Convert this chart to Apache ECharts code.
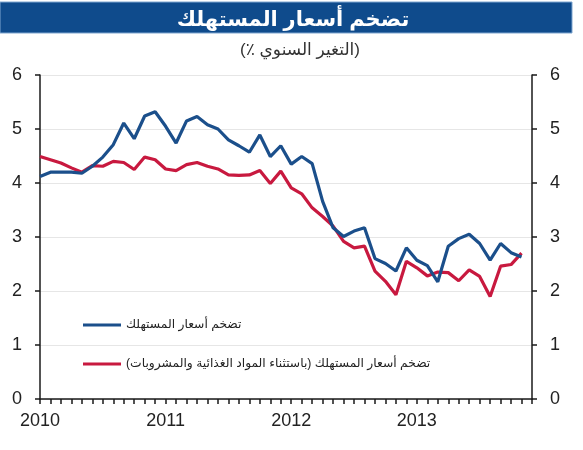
<!DOCTYPE html>
<html>
<head>
<meta charset="utf-8">
<script src="https://cdn.jsdelivr.net/npm/echarts@6/dist/echarts.min.js"></script>
<style>
    html, body { margin: 0; padding: 0; background: #fff; }
    #chart { width: 583px; height: 450px; }
</style>
</head>
<body>
<div id="chart"></div>
<script>
    // months Jan 2010 .. Dec 2013 (the last month has no value)
    var months = [];
    for (var y = 2010; y <= 2013; y++) {
        for (var m = 1; m <= 12; m++) {
            months.push(y + "-" + (m < 10 ? "0" + m : m));
        }
    }

    var cpiData = [4.12, 4.20, 4.20, 4.20, 4.18, 4.31, 4.48, 4.71, 5.11, 4.82, 5.24, 5.32,
        5.05, 4.74, 5.15, 5.23, 5.08, 5.00, 4.80, 4.69, 4.57, 4.89, 4.49, 4.69,
        4.35, 4.49, 4.36, 3.66, 3.17, 3.01, 3.11, 3.17, 2.60, 2.51, 2.37, 2.80,
        2.57, 2.47, 2.17, 2.83, 2.97, 3.05, 2.88, 2.57, 2.88, 2.71, 2.63];

    var coreData = [4.49, 4.43, 4.37, 4.28, 4.20, 4.32, 4.31, 4.40, 4.38, 4.25, 4.48, 4.43,
        4.26, 4.23, 4.34, 4.38, 4.31, 4.26, 4.15, 4.14, 4.15, 4.23, 3.99, 4.22,
        3.91, 3.80, 3.54, 3.38, 3.20, 2.92, 2.80, 2.83, 2.37, 2.18, 1.93, 2.55,
        2.43, 2.28, 2.35, 2.34, 2.19, 2.39, 2.27, 1.90, 2.46, 2.49, 2.70];

    var seriesNames = [
        "تضخم أسعار المستهلك",
        "تضخم أسعار المستهلك (باستثناء المواد الغذائية والمشروبات)\u200F"
    ];
    var titleText = "تضخم أسعار المستهلك";
    var subtitleText = "(٪ التغير السنوي)";

    var fontFamily = "'Liberation Sans', Arial, 'DejaVu Sans', sans-serif";
    var axisColor = "#1a1a1a";

    var chart = echarts.init(document.getElementById("chart"));

    var yAxisBase = {
        type: "value",
        min: 0,
        max: 6,
        interval: 1,
        axisLine: {show: true, lineStyle: {color: axisColor, width: 1.5}},
        axisTick: {show: true, inside: false, length: 5, lineStyle: {color: axisColor, width: 1.5}},
        axisLabel: {color: "#222", fontSize: 18, fontFamily: fontFamily, margin: 18}
    };

    var option = {
        backgroundColor: "#fff",
        animation: false,
        graphic: [
            {
                type: "rect",
                shape: {x: 0, y: 2, width: 572, height: 31},
                style: {fill: "#0f4b8c", stroke: "#7fa6d0", lineWidth: 1},
                z: 0
            }
        ],
        title: [
            {
                text: titleText,
                left: 288,
                top: 5,
                textAlign: "center",
                textStyle: {color: "#fff", fontSize: 21, fontWeight: "bold", fontFamily: fontFamily}
            },
            {
                text: subtitleText,
                left: 295,
                top: 37,
                textAlign: "center",
                textStyle: {color: "#333", fontSize: 17, fontWeight: "normal", fontFamily: fontFamily}
            }
        ],
        legend: {
            orient: "vertical",
            left: 78,
            top: 314,
            itemGap: 27,
            itemWidth: 38,
            itemHeight: 3,
            icon: "rect",
            align: "left",
            textStyle: {color: "#222", fontSize: 12.3, fontFamily: fontFamily},
            data: seriesNames
        },
        grid: {
            left: 40,
            right: 51,
            top: 75,
            bottom: 51
        },
        xAxis: {
            type: "category",
            boundaryGap: false,
            data: months,
            axisLine: {lineStyle: {color: axisColor, width: 1.5}},
            axisTick: {
                show: true,
                interval: 0,
                length: 5,
                lineStyle: {color: axisColor, width: 1.5}
            },
            axisLabel: {
                interval: function (idx) {
                    return idx % 12 === 0;
                },
                formatter: function (val) {
                    return val.substring(0, 4);
                },
                color: "#222",
                fontSize: 18,
                fontFamily: fontFamily,
                margin: 13
            },
            splitLine: {show: false}
        },
        yAxis: [
            Object.assign({}, yAxisBase, {
                position: "left",
                splitLine: {show: true, lineStyle: {color: "#e6e6e6", width: 1}}
            }),
            Object.assign({}, yAxisBase, {
                position: "right",
                splitLine: {show: false}
            })
        ],
        series: [
            {
                name: seriesNames[0],
                type: "line",
                data: cpiData,
                showSymbol: false,
                symbol: "none",
                lineStyle: {color: "#1b4f8b", width: 3.2},
                itemStyle: {color: "#1b4f8b"},
                z: 3
            },
            {
                name: seriesNames[1],
                type: "line",
                data: coreData,
                showSymbol: false,
                symbol: "none",
                lineStyle: {color: "#c8193f", width: 3.2},
                itemStyle: {color: "#c8193f"},
                z: 2
            }
        ]
    };

    chart.setOption(option);
</script>
</body>
</html>
